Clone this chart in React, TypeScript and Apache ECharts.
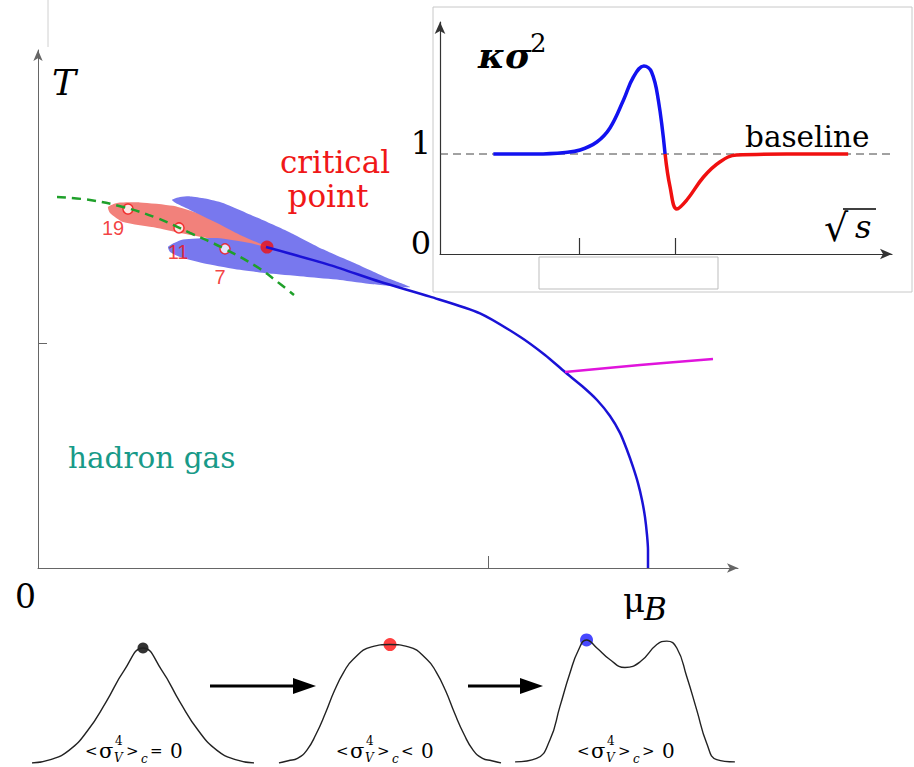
import React, { useEffect, useRef } from "react";
import * as echarts from "echarts";

// ---------- data (schematic units) ----------
// Main phase diagram: muB (0..700), T (0..230)
const muTicks = [450];
const tTicks = [100];
const phaseBoundary = [[228,142.5],[292,134.5],[342,127.1],[392,120.5],[442,113.1],[482,102.7],[507,94.6],[527,87.0],[544,80.8],[559,74.6],[572,67.5],[582,60.0],[589,52.4],[595,44.9],[600,37.7],[604,30.2],[607,22.6],[609,14.7],[610,8.0],[610,0]];
const magentaLine = [[527,87.0],[602,90.1],[675,92.8]];
const greenCrossover = [[19,164.7],[52,163.4],[85,160.3],[119,155.4],[152,148.8],[185,142.1],[219,133.7],[237,127.9],[256,121.2]];
const pinkLobe = [[70,160.3],[79,162.1],[102,162.3],[135,160.8],[162,157.2],[187,152.8],[210,147.4],[229,142.5],[192,144.8],[152,147.9],[119,151.0],[85,153.6],[72,157.6]];
const blueLobe = [[134,163.4],[142,164.7],[152,165.0],[167,164.1],[185,162.1],[219,155.6],[252,149.0],[285,141.5],[319,134.9],[352,128.3],[372,124.7],[335,126.0],[302,127.9],[269,129.2],[235,130.6],[202,132.4],[169,135.0],[142,138.1],[132,140.3],[130,142.5],[136,144.3],[145,145.9],[179,146.5],[212,144.3],[229,142.5],[202,147.9],[179,153.2],[152,159.0],[139,161.7]];
const energyPoints = [[90,159.4],[141,151.0],[187,141.7]];
const energyLabels = ["19","11","7"];
const criticalPoint = [[229,142.5]];

// Inset: sqrt(s) (0..100), kappa sigma^2 (0..2.32)
const sqrtsTicks = [30.8, 52.0];
const kappaTicks = [0, 1];
const baselineLevel = [[0,1],[100,1]];
const kurtosisBlue = [[11.8,1.0],[21.4,1.0],[27.7,1.015],[31.0,1.04],[34.7,1.12],[37.6,1.26],[40.6,1.54],[42.8,1.77],[45.1,1.88],[46.8,1.82],[48.3,1.54],[49.8,1.0]];
const kurtosisRed = [[49.8,1.0],[50.9,0.67],[52.4,0.45],[54.6,0.54],[58.3,0.77],[61.9,0.92],[65.6,0.99],[76.7,1.0],[90.3,1.0]];

// Bottom: probability distributions (x in -3..3, P normalised)
const singlePeak = [[-3,0],[-2.5,0.03],[-2,0.11],[-1.5,0.28],[-1,0.53],[-0.5,0.81],[0,1.0],[0.5,0.81],[1,0.53],[1.5,0.28],[2,0.11],[2.5,0.03],[3,0]];
const flatTop = [[-3,0],[-2.75,0.02],[-2.5,0.04],[-2.25,0.11],[-2,0.25],[-1.75,0.43],[-1.5,0.63],[-1.25,0.79],[-1,0.9],[-0.5,1.01],[0,1.03],[0.5,1.01],[1,0.9],[1.25,0.79],[1.5,0.63],[1.75,0.43],[2,0.25],[2.25,0.11],[2.5,0.04],[2.75,0.02],[3,0]];
const doublePeak = [[-2.97,0.01],[-2.39,0.04],[-2.03,0.2],[-1.76,0.49],[-1.49,0.78],[-1.26,0.98],[-1.04,1.07],[-0.76,1.0],[-0.41,0.9],[0,0.83],[0.41,0.88],[0.86,1.03],[1.13,1.06],[1.4,1.0],[1.67,0.75],[1.94,0.46],[2.21,0.17],[2.48,0.03],[2.97,0.01]];
const singlePeakDot = [[0,1.0]];
const flatTopDot = [[0,1.03]];
const doublePeakDot = [[-1.04,1.07]];

const SERIF = "DejaVu Serif";
const SANS = "Liberation Sans";

function txt(text: string, x: number, y: number, size: number, o: any = {}) {
  return {
    type: "text", x, y, z: 20, silent: true,
    style: {
      text, fontSize: size, fontFamily: o.fam || SERIF,
      fontStyle: o.italic ? "italic" : "normal", fontWeight: o.bold ? "bold" : "normal",
      fill: o.fill || "#000", align: o.align || "left", verticalAlign: "middle",
    },
  };
}

function formula(left: number, op: string) {
  const base = 751;
  return {
    type: "group", x: left, y: 0, children: [
      txt("<", -1, base, 15),
      txt("σ", 13, base, 21),
      txt("4", 29, 740.8, 12),
      txt("V", 28, 757.8, 12, { italic: true }),
      txt(">", 40, base, 15),
      txt("c", 55, 758.8, 12, { italic: true }),
      txt(op, 64, base, 15),
      txt("0", 84, base, 20),
    ],
  };
}

function polygonSeries(points: number[][], color: string) {
  return {
    type: "custom", xAxisIndex: 0, yAxisIndex: 0, data: [points[0]], silent: true,
    renderItem: (_p: any, api: any) => ({
      type: "polygon",
      shape: { points: points.map((p) => api.coord(p)), smooth: 0.2 },
      style: { fill: color },
    }),
  };
}

const labelOffsets = [[-15, 19], [-1, 24], [-5, 28]];

export default function App() {
  const ref = useRef<HTMLDivElement>(null);
  useEffect(() => {
    if (!ref.current) return;
    const chart = echarts.init(ref.current, undefined, { renderer: "svg" });
    const hiddenX = (gi: number) => ({ gridIndex: gi, type: "value", min: -3, max: 3, show: false });
    const hiddenY = (gi: number) => ({ gridIndex: gi, type: "value", min: 0, max: 1.2, show: false });
    const option: any = {
      animation: false,
      backgroundColor: "#fff",
      grid: [
        { left: 38, top: 50, width: 700, height: 518 },
        { left: 440, top: 22, width: 452, height: 232 },
        { left: 32, top: 625, width: 222, height: 138 },
        { left: 279, top: 625, width: 222, height: 138 },
        { left: 514, top: 625, width: 222, height: 138 },
      ],
      xAxis: [
        {
          gridIndex: 0, type: "value", min: 0, max: 700,
          axisLine: { show: true, onZero: false, symbol: ["none", "arrow"], symbolSize: [7, 11], lineStyle: { color: "#666", width: 1 } },
          axisTick: { show: true, inside: true, length: 12, customValues: muTicks, lineStyle: { color: "#666" } },
          axisLabel: { show: false }, splitLine: { show: false },
        },
        {
          gridIndex: 1, type: "value", min: 0, max: 100, z: 8,
          axisLine: { show: true, onZero: false, symbol: ["none", "arrow"], symbolSize: [8, 12], lineStyle: { color: "#333", width: 1.2 } },
          axisTick: { show: true, inside: true, length: 16, customValues: sqrtsTicks, lineStyle: { color: "#333", width: 1.2 } },
          axisLabel: { show: false }, splitLine: { show: false },
        },
        hiddenX(2), hiddenX(3), hiddenX(4),
      ],
      yAxis: [
        {
          gridIndex: 0, type: "value", min: 0, max: 230,
          axisLine: { show: true, onZero: false, symbol: ["none", "arrow"], symbolSize: [7, 11], lineStyle: { color: "#666", width: 1 } },
          axisTick: { show: true, inside: true, length: 9, customValues: tTicks, lineStyle: { color: "#666" } },
          axisLabel: { show: false }, splitLine: { show: false },
        },
        {
          gridIndex: 1, type: "value", min: 0, max: 2.32, z: 8,
          axisLine: { show: true, onZero: false, symbol: ["none", "arrow"], symbolSize: [8, 12], lineStyle: { color: "#333", width: 1.2 } },
          axisTick: { show: false },
          axisLabel: { show: true, customValues: kappaTicks, fontSize: 32, fontFamily: SERIF, color: "#000", verticalAlign: "bottom", lineHeight: 22, margin: 9 },
          splitLine: { show: false },
        },
        hiddenY(2), hiddenY(3), hiddenY(4),
      ],
      series: [
        polygonSeries(pinkLobe, "#f2817b"),
        polygonSeries(blueLobe, "#7878ee"),
        {
          type: "line", xAxisIndex: 0, yAxisIndex: 0, data: greenCrossover, smooth: 0.4, showSymbol: false,
          lineStyle: { color: "#1fa02a", width: 2.5, type: [9, 6] },
        },
        {
          type: "line", xAxisIndex: 0, yAxisIndex: 0, data: phaseBoundary, smooth: 0.25, showSymbol: false,
          lineStyle: { color: "#1a12d6", width: 2.5 },
        },
        {
          type: "line", xAxisIndex: 0, yAxisIndex: 0, data: magentaLine, smooth: 0.4, showSymbol: false,
          lineStyle: { color: "#e014dc", width: 2.5 },
        },
        {
          type: "scatter", xAxisIndex: 0, yAxisIndex: 0, symbolSize: 10,
          data: energyPoints.map((v, i) => ({ value: v, label: { offset: labelOffsets[i] } })),
          itemStyle: { color: "#fff", borderColor: "#f01010", borderWidth: 1.5 },
          label: { show: true, position: "inside", formatter: (p: any) => energyLabels[p.dataIndex], color: "#f01010", fontSize: 20, fontFamily: SANS },
        },
        {
          type: "scatter", xAxisIndex: 0, yAxisIndex: 0, symbolSize: 13, data: criticalPoint,
          itemStyle: { color: "#f01010" },
        },
        {
          type: "line", xAxisIndex: 1, yAxisIndex: 1, data: baselineLevel, showSymbol: false, z: 9,
          lineStyle: { color: "#444", width: 1, type: [8, 5] },
        },
        {
          type: "line", xAxisIndex: 1, yAxisIndex: 1, data: kurtosisBlue, smooth: 0.4, showSymbol: false, z: 10,
          lineStyle: { color: "#1212f0", width: 3.5 },
        },
        {
          type: "line", xAxisIndex: 1, yAxisIndex: 1, data: kurtosisRed, smooth: 0.4, showSymbol: false, z: 10,
          lineStyle: { color: "#f01010", width: 3.5 },
        },
        { type: "line", xAxisIndex: 2, yAxisIndex: 2, data: singlePeak, smooth: 0.5, showSymbol: false, lineStyle: { color: "#222", width: 1.4 } },
        { type: "line", xAxisIndex: 3, yAxisIndex: 3, data: flatTop, smooth: 0.5, showSymbol: false, lineStyle: { color: "#222", width: 1.4 } },
        { type: "line", xAxisIndex: 4, yAxisIndex: 4, data: doublePeak, smooth: 0.5, showSymbol: false, lineStyle: { color: "#222", width: 1.4 } },
        { type: "scatter", xAxisIndex: 2, yAxisIndex: 2, data: singlePeakDot, symbolSize: 11, itemStyle: { color: "#000" } },
        { type: "scatter", xAxisIndex: 3, yAxisIndex: 3, data: flatTopDot, symbolSize: 13, itemStyle: { color: "#ff1010" } },
        { type: "scatter", xAxisIndex: 4, yAxisIndex: 4, data: doublePeakDot, symbolSize: 13, itemStyle: { color: "#1a1aff" } },
      ],
      graphic: [
        { type: "line", z: 1, silent: true, shape: { x1: 48, y1: 0, x2: 48, y2: 47 }, style: { stroke: "#d0d0d0", lineWidth: 1 } },
        { type: "rect", z: 1, silent: true, shape: { x: 433, y: 7, width: 479, height: 285 }, style: { fill: "#fff", stroke: "#c8c8c8", lineWidth: 1 } },
        { type: "rect", z: 6, silent: true, shape: { x: 539, y: 257, width: 179, height: 32 }, style: { fill: "#fff", stroke: "#bdbdbd", lineWidth: 1 } },
        txt("T", 52, 82.4, 36, { italic: true }),
        txt("0", 15, 596.5, 33),
        txt("μ", 623, 600, 34),
        txt("B", 644, 609, 31, { italic: true }),
        txt("critical", 335, 162, 31, { fill: "#f01818", align: "center" }),
        txt("point", 328, 196, 31, { fill: "#f01818", align: "center" }),
        txt("hadron gas", 68, 457.5, 29.5, { fill: "#189a88" }),
        txt("κσ", 478, 55.4, 36, { italic: true, bold: true }),
        txt("2", 530, 43, 26),
        txt("baseline", 745, 136.5, 29.5),
        txt("√", 824, 228, 38),
        txt("s", 855, 227, 32, { italic: true }),
        { type: "line", z: 20, silent: true, shape: { x1: 843, y1: 209, x2: 876, y2: 209 }, style: { stroke: "#000", lineWidth: 1.3 } },
        { type: "line", z: 20, silent: true, shape: { x1: 210, y1: 686, x2: 296, y2: 686 }, style: { stroke: "#000", lineWidth: 3 } },
        { type: "polygon", z: 20, silent: true, shape: { points: [[293, 678], [316, 686], [293, 694]] }, style: { fill: "#000" } },
        { type: "line", z: 20, silent: true, shape: { x1: 468, y1: 686, x2: 523, y2: 686 }, style: { stroke: "#000", lineWidth: 3 } },
        { type: "polygon", z: 20, silent: true, shape: { points: [[520, 678], [543, 686], [520, 694]] }, style: { fill: "#000" } },
        formula(86, "="),
        formula(337, "<"),
        formula(578, ">"),
      ],
    };
    chart.setOption(option);
    return () => chart.dispose();
  }, []);
  return <div ref={ref} style={{ position: "fixed", left: 0, top: 0, width: 914, height: 767 }} />;
}
